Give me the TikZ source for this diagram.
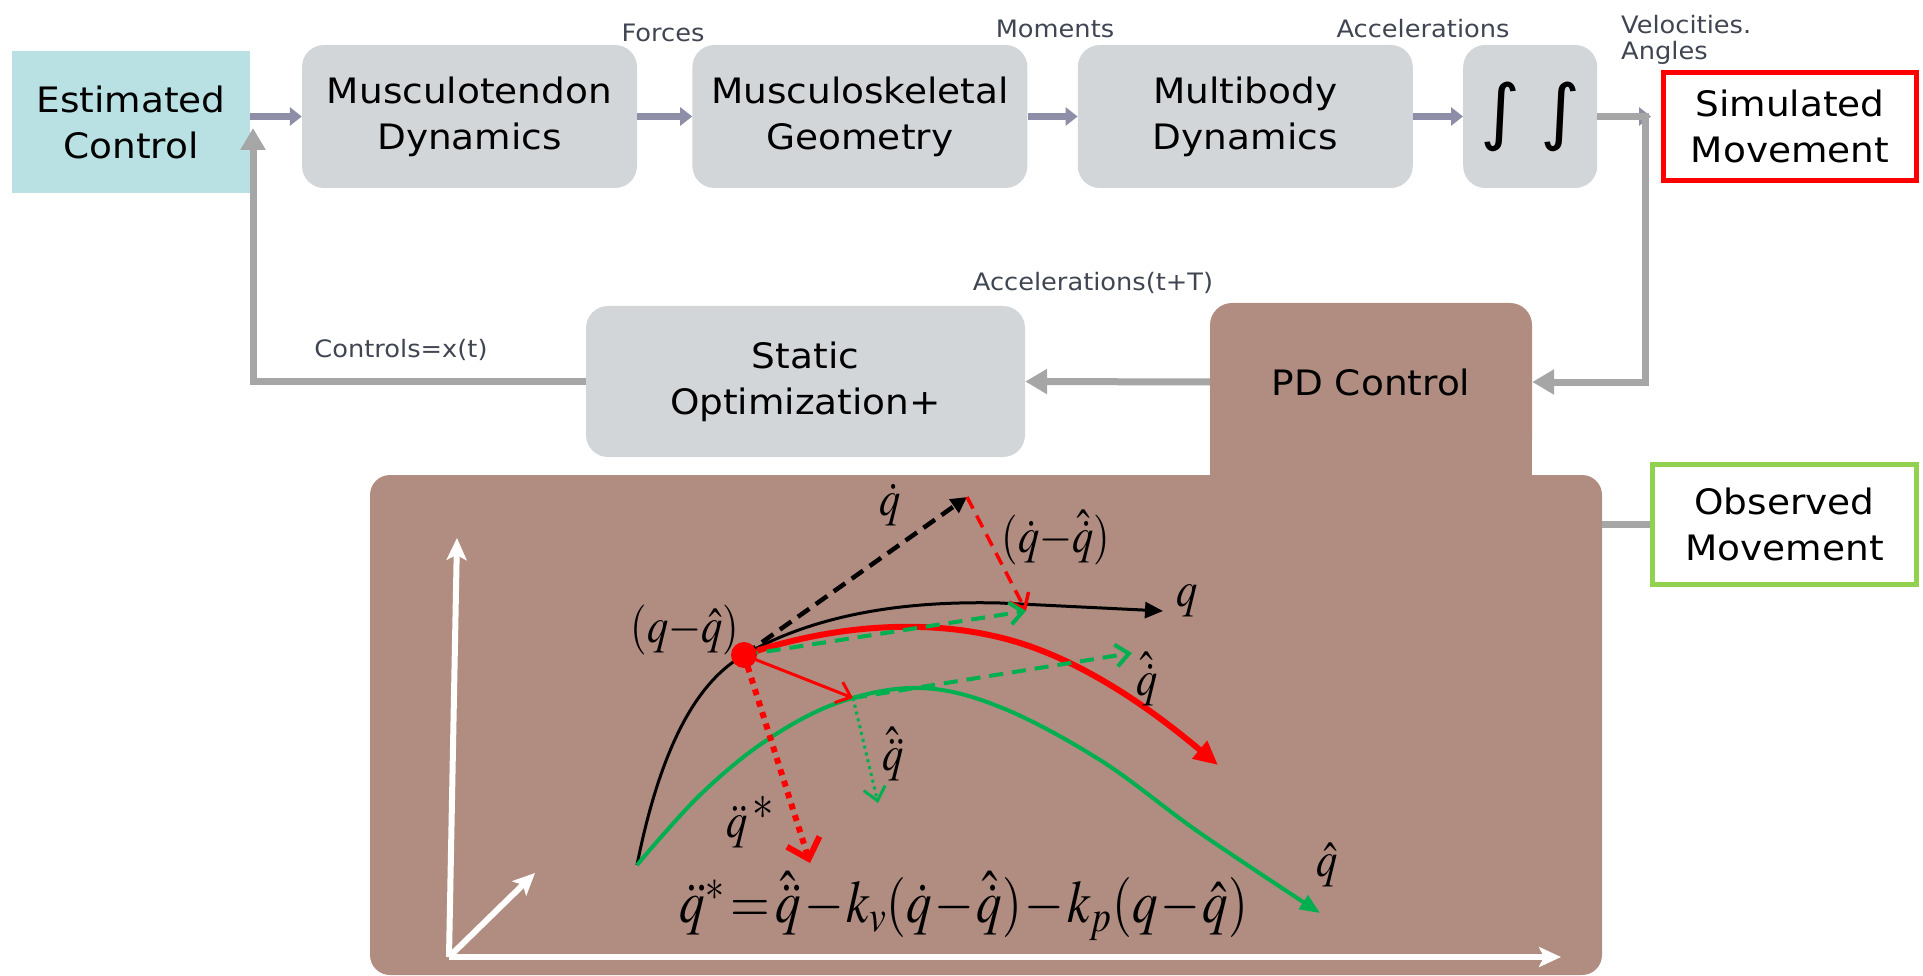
\documentclass[tikz,border=0pt]{standalone}
\usepackage{mathptmx}
\usepackage{graphicx}
\usepackage{fontspec}
\setmainfont[FakeStretch=1.07]{DejaVu Sans}
\usetikzlibrary{positioning, arrows.meta}
\definecolor{ctrlCyan}{HTML}{B9E1E4}
\definecolor{blockGrey}{HTML}{D3D6D9}
\definecolor{flowPurple}{HTML}{8E8EA8}
\definecolor{fbGrey}{HTML}{A6A6A6}
\definecolor{labelGrey}{HTML}{404552}
\definecolor{pdBrown}{HTML}{B08D80}
\definecolor{simRed}{HTML}{FF0000}
\definecolor{obsGreen}{HTML}{92D050}
\definecolor{curveGreen}{HTML}{00B050}
\newcommand{\mathnarrow}[1]{\scalebox{0.85}[1]{#1}}

\begin{document}
\begin{tikzpicture}[x=1pt, y=-1pt,
    boxfont/.style={font=\fontsize{35}{46}\selectfont},
    block/.style={boxfont, fill=blockGrey, rounded corners=22pt, minimum height=143pt,
      align=center, inner sep=0pt},
    outbox/.style={boxfont, fill=white, line width=5pt, align=center, inner sep=0pt},
    flow/.style={draw=flowPurple, line width=7pt, -{Triangle[width=18pt,length=12pt]}},
    fb/.style={draw=fbGrey, line width=7pt},
    fbarrow/.style={fb, -{Triangle[width=24pt,length=22pt]}},
    lbl/.style={font=\fontsize{24}{26}\selectfont, text=labelGrey, inner sep=0pt},
    mlbl/.style={font=\fontsize{50}{56}\selectfont, inner sep=0pt},
    axis/.style={draw=white, line width=6pt, -{Stealth[length=22pt,width=20pt,inset=5pt]}},
    barb/.style={-{Straight Barb[length=13pt,width=22pt]}}]

  \useasboundingbox (0,0) rectangle (1923,976);

  % forward chain
  \node[boxfont, fill=ctrlCyan, minimum width=238pt, minimum height=142pt, align=center,
    inner sep=0pt] (est) at (131,122) {Estimated\\Control};
  \node[block, minimum width=335pt] (mtd) at (469.5,116.5) {Musculotendon\\Dynamics};
  \node[block, minimum width=335pt, right=55pt of mtd] (msg) {Musculoskeletal\\Geometry};
  \node[block, minimum width=335pt, right=50pt of msg] (mbd) {Multibody\\Dynamics};
  \node[block, minimum width=134pt, right=50pt of mbd] (intg)
    {\fontsize{72}{72}\selectfont ∫\hspace{20pt}∫};
  \node[outbox, draw=simRed, minimum width=253pt, minimum height=108pt] (sim) at (1790,126.5)
    {Simulated\\Movement};

  \draw[flow] (est.east |- mtd) -- (mtd);
  \draw[flow] (mtd) -- (msg);
  \draw[flow] (msg) -- (mbd);
  \draw[flow] (mbd) -- (intg);
  \draw[flow, shorten >=10pt] (intg) -- (intg -| sim.west);

  \node[lbl] (forces) at (663,33) {Forces};
  \node[lbl] (moments) at (1055,29) {Moments};
  \node[lbl] (accel) at (1423,29) {Accelerations};
  \node[lbl, anchor=west, align=left] (velang) at (1621,40) {Velocities.\\Angles};

  % PD panel
  \node[fill=pdBrown, rounded corners=20pt, minimum width=1232pt, minimum height=500pt,
    inner sep=0pt] (pnl) at (986,725) {};
  \node[boxfont, fill=pdBrown, rounded corners=22pt, minimum width=322pt, minimum height=158pt,
    inner sep=0pt] (pdc) at (1371,382) {PD Control};
  \fill[pdBrown] ([yshift=20pt]pdc.south west) rectangle ([yshift=-20pt]pdc.south east);
  \node[block, minimum width=439pt, minimum height=151pt] (statopt) at (805.5,381.5)
    {Static\\Optimization+};
  \node[outbox, draw=obsGreen, minimum width=264pt, minimum height=120pt] (obs) at (1784.5,524.5)
    {Observed\\Movement};

  % feedback
  \coordinate (fbturn) at (1645,117);
  \coordinate (estin) at (253,128);
  \draw[fbarrow] (intg.east |- fbturn) -- (fbturn) |- (pdc.east);
  \draw[fbarrow] (pdc.west) -- (statopt.east);
  \draw[fbarrow] (statopt.west) -| (estin);
  \draw[fb] (pnl.east |- obs) -- (obs);

  \node[lbl] (acctt) at (1093,283) {Accelerations(t+T)};
  \node[lbl] (ctrls) at (401,350) {Controls=x(t)};

  % axes
  \coordinate (origin) at (449,957);
  \coordinate (yend) at (457,538);
  \coordinate (xend) at (1561,957);
  \coordinate (zend) at (535,873);
  \draw[axis] (origin) -- (yend);
  \draw[axis] (origin) -- (xend);
  \draw[axis] (origin) -- (zend);

  % trajectories
  \draw[line width=3pt, -{Triangle[length=18pt,width=16pt]}]
    (637,865) .. controls (662,740) and (700,680) .. (744,655)
    .. controls (800,623) and (880,600) .. (1000,603) -- (1163,611);
  \draw[curveGreen, line width=4pt, -{Triangle[length=20pt,width=16pt]}] plot[smooth, tension=0.6]
    coordinates {(637,865) (700,795) (767,740) (840,702) (920,688) (1000,707) (1100,760)
      (1200,833) (1320,913)};
  \draw[simRed, line width=6pt, -{Triangle[length=24pt,width=22pt]}]
    (744,655) .. controls (840,622) and (950,615) .. (1040,650)
    .. controls (1110,677) and (1170,725) .. (1218,765);

  % vectors
  \coordinate (pt) at (744,655);
  \coordinate (qdot) at (967,497);
  \coordinate (vtip) at (1026,611);
  \coordinate (corr) at (853,698);
  \coordinate (qhd) at (1132,653);
  \coordinate (qhdd) at (878,803);
  \coordinate (qdds) at (810,863);
  \draw[line width=4.5pt, dash pattern=on 14pt off 8pt, -{Triangle[length=16pt,width=16pt]}]
    (pt) -- (qdot);
  \draw[simRed, line width=3.5pt, dash pattern=on 13pt off 8pt, barb] (qdot) -- (vtip);
  \draw[curveGreen, line width=4pt, dash pattern=on 14pt off 9pt, barb] (pt) -- (vtip);
  \draw[simRed, line width=3pt, barb] (pt) -- (corr);
  \draw[curveGreen, line width=4pt, dash pattern=on 14pt off 9pt, barb] (corr) -- (qhd);
  \draw[curveGreen, line width=3pt, dash pattern=on 3pt off 4pt, barb] (corr) -- (qhdd);
  \draw[simRed, line width=6pt, dash pattern=on 6pt off 6pt,
    -{Straight Barb[length=18pt,width=34pt]}] (pt) -- (qdds);
  \node[circle, fill=simRed, minimum size=26pt, inner sep=0pt] (ptdot) at (pt) {};

  \node[mlbl] (lerr) at (685,630) {\mathnarrow{$(q{-}\hat{q})$}};
  \node[mlbl] (lqd) at (890,505) {\mathnarrow{$\dot{q}$}};
  \node[mlbl] (lverr) at (1056,538) {\mathnarrow{$(\dot{q}{-}\hat{\dot{q}})$}};
  \node[mlbl] (lq) at (1187,601) {\mathnarrow{$q$}};
  \node[mlbl] (lqhd) at (1147,679) {\mathnarrow{$\hat{\dot{q}}$}};
  \node[mlbl] (lqhdd) at (893,754) {\mathnarrow{$\hat{\ddot{q}}$}};
  \node[mlbl] (lqh) at (1327,865) {\mathnarrow{$\hat{q}$}};
  \node[mlbl] (lqdds) at (750,822) {\mathnarrow{$\ddot{q}\,{}^{\textstyle *}$}};
  \node[font=\fontsize{60}{66}\selectfont, inner sep=0pt, anchor=base] (eqn) at (964,922)
    {\mathnarrow{$\ddot{q}^{*}\mkern2mu{=}\mkern2mu\hat{\ddot{q}}\mkern1mu{-}\mkern1mu k_v(\dot{q}\mkern1mu{-}\mkern1mu\hat{\dot{q}})\mkern1mu{-}\mkern1mu k_p(q\mkern1mu{-}\mkern1mu\hat{q})$}};
\end{tikzpicture}
\end{document}
